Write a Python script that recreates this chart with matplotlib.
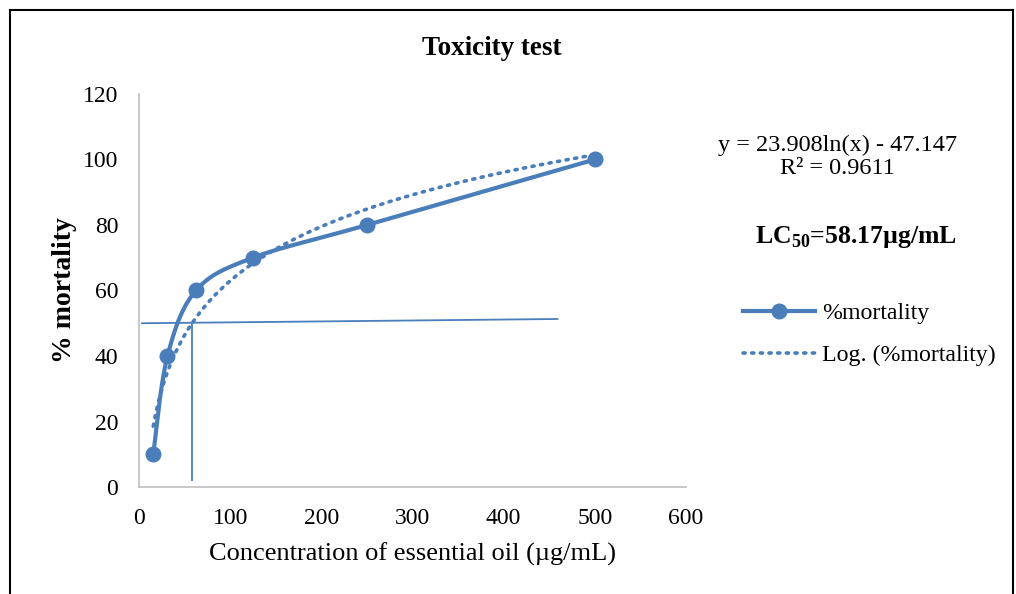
import numpy as np
import matplotlib
matplotlib.use("Agg")
import matplotlib.pyplot as plt
from matplotlib.lines import Line2D

plt.rcParams['font.family'] = ['Liberation Serif', 'DejaVu Serif']
plt.rcParams['mathtext.fontset'] = 'custom'
plt.rcParams['mathtext.rm'] = 'Liberation Serif'
plt.rcParams['mathtext.bf'] = 'Liberation Serif:bold'

# Data
concentration = [15.625, 31.25, 62.5, 125, 250, 500]
mortality = [10, 40, 60, 70, 80, 100]
fit_a, fit_b = 23.908, -47.147
r_squared = 0.9611
lc50 = 58.17
ref_line_x = [3.3, 459]
ref_line_y = [50, 51.3]
lc50_drop_y = [50, 2.1]
x_ticks = [0, 100, 200, 300, 400, 500, 600]
y_ticks = [0, 20, 40, 60, 80, 100, 120]

blue = '#4A7EBB'
axis_grey = '#BFBFBF'

fig = plt.figure(figsize=(10.16, 5.94), dpi=100)
ax = fig.add_axes([0.1368, 0.1801, 0.6752 - 0.1368, 0.8418 - 0.1801])
ax.set_xlim(0, 600)
ax.set_ylim(0, 120)


def smooth_curve(xs, ys, n=40):
    """Bezier smoothing of a polyline in display space (spreadsheet style)."""
    pts = ax.transData.transform(np.column_stack([xs, ys]))
    pad = np.vstack([pts[0], pts, pts[-1]])
    out = []
    for i in range(len(pts) - 1):
        p0, p1, p2, p3 = pad[i], pad[i + 1], pad[i + 2], pad[i + 3]
        c1 = p1 + (p2 - p0) / 6.0
        c2 = p2 - (p3 - p1) / 6.0
        t = np.linspace(0, 1, n)[:, None]
        seg = ((1 - t) ** 3) * p1 + 3 * ((1 - t) ** 2) * t * c1 + 3 * (1 - t) * t ** 2 * c2 + t ** 3 * p2
        out.append(seg if i == 0 else seg[1:])
    out = np.vstack(out)
    data = ax.transData.inverted().transform(out)
    return data[:, 0], data[:, 1]


# Reference lines for LC50 reading
ax.plot(ref_line_x, ref_line_y, color=blue, lw=1.3, zorder=2)
ax.plot([lc50, lc50], lc50_drop_y, color=blue, lw=1.3, zorder=2)

# Logarithmic trendline
xt = np.linspace(concentration[0], concentration[-1], 400)
yt = fit_a * np.log(xt) + fit_b
ax.plot(xt, yt, color=blue, lw=2.6, ls=(0, (0.6, 1.8)), dash_capstyle='round', zorder=3)

# Smoothed data series with markers
sx, sy = smooth_curve(concentration, mortality)
ax.plot(sx, sy, color=blue, lw=3.0, solid_capstyle='round', zorder=4)
ax.plot(concentration, mortality, 'o', color=blue, ms=10.5, zorder=5)

# Axes styling
for side in ['top', 'right']:
    ax.spines[side].set_visible(False)
for side in ['left', 'bottom']:
    ax.spines[side].set_color(axis_grey)
    ax.spines[side].set_linewidth(1.2)
ax.set_xticks(x_ticks)
ax.set_yticks(y_ticks)
ax.tick_params(length=0, labelsize=17)
ax.tick_params(axis='y', pad=15)
ax.tick_params(axis='x', pad=15)

ax.set_xlabel('Concentration of essential oil (µg/mL)', fontsize=19, labelpad=10)
ax.set_ylabel('% mortality', fontsize=20, fontweight='bold', labelpad=4)
fig.text(0.484, 0.919, 'Toxicity test', fontsize=19.5, fontweight='bold', ha='center', va='center')

# Trendline equation and LC50 annotation
fig.text(0.824, 0.7365, f'y = {fit_a}ln(x) - {abs(fit_b)}\nR² = {r_squared}', fontsize=17.5,
         ha='center', va='center', linespacing=1.12)
fig.text(0.842, 0.601, r'LC$_{\mathbf{50}}$=' + f'{lc50}µg/mL', fontsize=18.5, fontweight='bold',
         ha='center', va='center')

handles = [
    Line2D([], [], color=blue, lw=3.0, marker='o', ms=10.5),
    Line2D([], [], color=blue, lw=2.6, ls=(0, (0.6, 1.8)), dash_capstyle='round'),
]
fig.legend(handles, ['%mortality', 'Log. (%mortality)'], loc='upper left',
           bbox_to_anchor=(0.710, 0.527), frameon=False, fontsize=17.2,
           handlelength=3.0, handletextpad=0.3, labelspacing=0.85)

# Outer frame
frame_kw = dict(color='black', lw=1.5, transform=fig.transFigure, clip_on=False)
fig.add_artist(Line2D([0.0098, 0.9970], [0.983, 0.983], **frame_kw))
fig.add_artist(Line2D([0.0098, 0.0098], [0.0, 0.983], **frame_kw))
fig.add_artist(Line2D([0.9970, 0.9970], [0.0, 0.983], **frame_kw))

fig.savefig('out.png', dpi=100)
